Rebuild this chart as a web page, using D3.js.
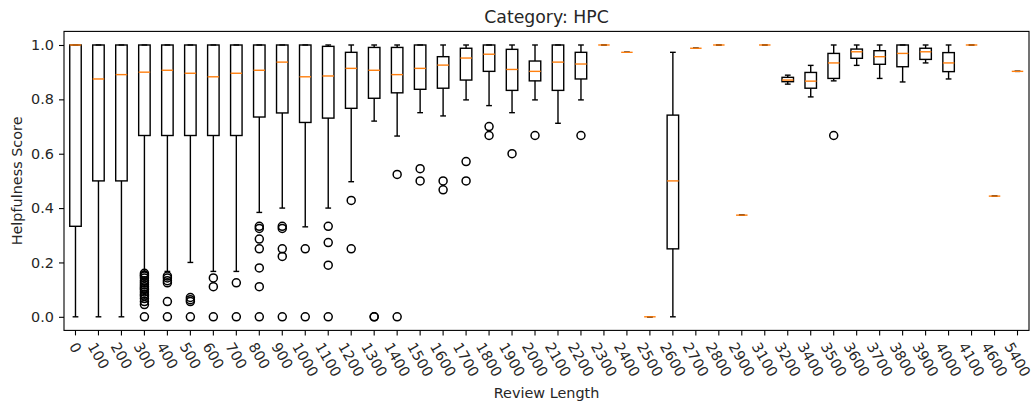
<!DOCTYPE html>
<html>
<head>
<meta charset="utf-8">
<script src="https://cdn.jsdelivr.net/npm/d3@7"></script>
<style>
  html, body { margin: 0; padding: 0; background: #fff; }
  svg { display: block; font-family: "DejaVu Sans", sans-serif; }
</style>
</head>
<body>
<svg id="chart" width="1036" height="407"></svg>
<script>
// Review length buckets
const categories = ["0","100","200","300","400","500","600","700","800","900","1000","1100","1200","1300","1400","1500","1600","1700","1800","1900","2000","2100","2200","2300","2400","2500","2600","2700","2800","2900","3100","3200","3400","3500","3600","3700","3800","3900","4000","4100","4600","5400"];

// Box statistics per bucket
const q1 =        [0.333,0.5,0.5,0.667,0.667,0.667,0.667,0.667,0.735,0.75,0.715,0.731,0.767,0.804,0.824,0.837,0.841,0.871,0.903,0.833,0.868,0.833,0.875,1.0,0.973,0.0,0.25,0.988,1.0,0.374,1.0,0.865,0.841,0.877,0.951,0.929,0.92,0.947,0.902,1.0,0.444,0.903];
const medians =   [1.0,0.875,0.891,0.9,0.907,0.896,0.883,0.896,0.907,0.937,0.883,0.886,0.914,0.907,0.891,0.914,0.926,0.952,0.966,0.91,0.903,0.937,0.93,1.0,0.973,0.0,0.5,0.988,1.0,0.374,1.0,0.871,0.867,0.934,0.975,0.957,0.969,0.975,0.934,1.0,0.444,0.903];
const q3 =        [1.0,1.0,1.0,1.0,1.0,1.0,1.0,1.0,1.0,1.0,1.0,0.995,0.973,0.991,0.991,1.0,0.957,0.988,1.0,0.984,0.941,1.0,0.973,1.0,0.973,0.0,0.742,0.988,1.0,0.374,1.0,0.881,0.899,0.969,0.985,0.979,1.0,0.988,0.972,1.0,0.444,0.903];
const whiskerLow =[0.0,0.0,0.0,0.167,0.167,0.2,0.167,0.167,0.384,0.4,0.331,0.4,0.497,0.72,0.665,0.751,0.739,0.798,0.777,0.751,0.798,0.712,0.798,1.0,0.973,0.0,0.0,0.988,1.0,0.374,1.0,0.856,0.809,0.868,0.925,0.877,0.864,0.934,0.875,1.0,0.444,0.903];
const whiskerHigh=[1.0,1.0,1.0,1.0,1.0,1.0,1.0,1.0,1.0,1.0,1.0,1.0,1.0,1.0,1.0,1.0,1.0,1.0,1.0,1.0,1.0,1.0,1.0,1.0,0.973,0.0,0.973,0.988,1.0,0.374,1.0,0.889,0.925,1.0,1.0,1.0,1.0,1.0,1.0,1.0,0.444,0.903];

// Points beyond the whiskers
const outliers = [
  [], [], [],
  [0,0.045,0.056,0.067,0.077,0.083,0.091,0.1,0.105,0.111,0.118,0.125,0.133,0.143,0.15,0.154,0.16],
  [0,0.056,0.125,0.133,0.143,0.15],
  [0,0.056,0.063,0.071],
  [0,0.111,0.143],
  [0,0.125],
  [0,0.111,0.18,0.25,0.286,0.325,0.333],
  [0,0.222,0.25,0.325,0.333],
  [0,0.25],
  [0,0.19,0.273,0.333],
  [0.25,0.428],
  [0,0],
  [0,0.524],
  [0.5,0.545],
  [0.467,0.5],
  [0.5,0.571],
  [0.667,0.7],
  [0.6],
  [0.667],
  [],
  [0.667],
  [], [], [], [], [], [], [], [], [], [],
  [0.667],
  [], [], [], [], [], [], [], []
];

const yTicks = [0, 0.2, 0.4, 0.6, 0.8, 1.0];

const W = 1036, H = 407;
const margin = { left: 64, right: 7, top: 31.4, bottom: 76.6 };
const plotW = W - margin.left - margin.right;
const plotH = H - margin.top - margin.bottom;

const svg = d3.select("#chart");
const g = svg.append("g").attr("transform", `translate(${margin.left},${margin.top})`);

const x = d3.scaleBand().domain(categories).range([0, plotW]).paddingInner(0).paddingOuter(0);
const y = d3.scaleLinear().domain([-0.05, 1.05]).range([plotH, 0]);

const lw = 1.4;
const boxW = x.bandwidth() * 0.5;
const capW = x.bandwidth() * 0.25;
const orange = "#ff7f0e";

const rows = categories.map((c, i) => ({
  c, q1: q1[i], med: medians[i], q3: q3[i], lo: whiskerLow[i], hi: whiskerHigh[i], out: outliers[i]
}));

const boxes = g.selectAll("g.box").data(rows).join("g").attr("class", "box")
  .attr("transform", d => `translate(${x(d.c) + x.bandwidth() / 2},0)`);

// whiskers
boxes.append("line").attr("x1", 0).attr("x2", 0)
  .attr("y1", d => y(d.q1)).attr("y2", d => y(d.lo))
  .attr("stroke", "#000").attr("stroke-width", lw);
boxes.append("line").attr("x1", 0).attr("x2", 0)
  .attr("y1", d => y(d.q3)).attr("y2", d => y(d.hi))
  .attr("stroke", "#000").attr("stroke-width", lw);
// caps
boxes.append("line").attr("x1", -capW / 2).attr("x2", capW / 2)
  .attr("y1", d => y(d.lo)).attr("y2", d => y(d.lo))
  .attr("stroke", "#000").attr("stroke-width", lw);
boxes.append("line").attr("x1", -capW / 2).attr("x2", capW / 2)
  .attr("y1", d => y(d.hi)).attr("y2", d => y(d.hi))
  .attr("stroke", "#000").attr("stroke-width", lw);
// box
boxes.append("rect").attr("x", -boxW / 2).attr("width", boxW)
  .attr("y", d => y(d.q3)).attr("height", d => y(d.q1) - y(d.q3))
  .attr("fill", "none").attr("stroke", "#000").attr("stroke-width", lw);
// median
boxes.append("line").attr("x1", -boxW / 2).attr("x2", boxW / 2)
  .attr("y1", d => y(d.med)).attr("y2", d => y(d.med))
  .attr("stroke", orange).attr("stroke-width", lw);
// fliers
boxes.selectAll("circle").data(d => d.out).join("circle")
  .attr("cx", 0).attr("cy", v => y(v)).attr("r", 4)
  .attr("fill", "none").attr("stroke", "#000").attr("stroke-width", 1.5);

// frame
g.append("rect").attr("x", 0).attr("y", 0).attr("width", plotW).attr("height", plotH)
  .attr("fill", "none").attr("stroke", "#000").attr("stroke-width", 1.1);

// y axis
const yAxis = g.append("g")
  .call(d3.axisLeft(y).tickValues(yTicks).tickFormat(d3.format(".1f")).tickSize(5).tickPadding(5).tickSizeOuter(0));
yAxis.select(".domain").remove();
yAxis.selectAll("line").attr("stroke", "#000").attr("stroke-width", 1.1);
yAxis.selectAll("text").attr("font-size", "14.4px").attr("fill", "#262626").attr("font-family", "DejaVu Sans");

// x axis
const xAxis = g.append("g").attr("transform", `translate(0,${plotH})`)
  .call(d3.axisBottom(x).tickSize(5).tickSizeOuter(0));
xAxis.select(".domain").remove();
xAxis.selectAll("line").attr("stroke", "#000").attr("stroke-width", 1.1);
const ang = 60 * Math.PI / 180;
xAxis.selectAll("text")
  .attr("font-size", "14.4px").attr("fill", "#262626").attr("font-family", "DejaVu Sans")
  .attr("text-anchor", "middle").attr("dominant-baseline", "central")
  .attr("y", 0).attr("dy", null)
  .each(function () {
    const w = this.getComputedTextLength();
    const h = 14.4 * 0.95;
    const cy = 5 + 5 + (w * Math.sin(ang) + h * Math.cos(ang)) / 2;
    d3.select(this).attr("transform", `translate(0,${cy}) rotate(60)`);
  });

// titles
svg.append("text").attr("x", margin.left + plotW / 2).attr("y", 23)
  .attr("text-anchor", "middle").attr("font-size", "17.3px").attr("fill", "#262626")
  .text("Category: HPC");
svg.append("text").attr("x", margin.left + plotW / 2).attr("y", 398)
  .attr("text-anchor", "middle").attr("font-size", "14.4px").attr("fill", "#262626")
  .text("Review Length");
svg.append("text").attr("transform", `translate(22,${margin.top + plotH / 2}) rotate(-90)`)
  .attr("text-anchor", "middle").attr("font-size", "14.4px").attr("fill", "#262626")
  .text("Helpfulness Score");
</script>
</body>
</html>
